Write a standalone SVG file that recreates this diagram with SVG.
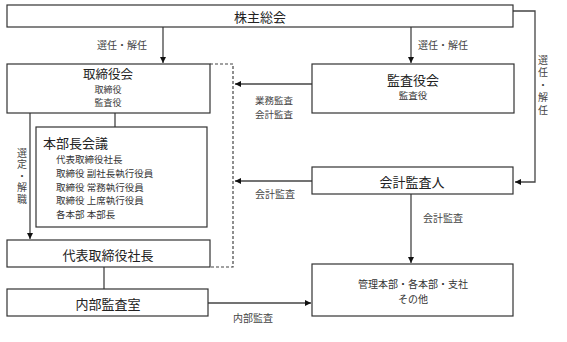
<svg xmlns="http://www.w3.org/2000/svg" width="567" height="342" viewBox="0 0 567 342">
<defs>
<marker id="ah" viewBox="0 0 10 10" refX="10" refY="5" markerWidth="6" markerHeight="6" markerUnits="userSpaceOnUse" orient="auto">
<path d="M0,0 L10,5 L0,10 Z" fill="#111"/>
</marker>
<style>
.box{fill:#fff;stroke:#333;stroke-width:1.2}
.ln{fill:none;stroke:#444;stroke-width:1.3}
.dash{fill:none;stroke:#444;stroke-width:1.2;stroke-dasharray:3 2}
text{font-family:"Noto Sans CJK JP","Noto Sans CJK SC",sans-serif;fill:#222}
.t{font-size:13px;text-anchor:middle;dominant-baseline:central}
.s{font-size:9.5px;text-anchor:middle;dominant-baseline:central;fill:#333}
.l{font-size:10px;dominant-baseline:central;fill:#444}
.m{font-size:9.5px;dominant-baseline:central;fill:#333}
.v{font-size:10px;fill:#444;writing-mode:vertical-rl}
</style>
</defs>
<g id="connectors">
<line class="ln" x1="163" y1="27" x2="163" y2="63" marker-end="url(#ah)"/>
<line class="ln" x1="411" y1="27" x2="411" y2="63" marker-end="url(#ah)"/>
<polyline class="ln" points="513,11 535,11 535,182 515,182" marker-end="url(#ah)"/>
<polyline class="dash" points="210,64 233,64 233,267 210,267"/>
<line class="ln" x1="312" y1="84" x2="235" y2="84" marker-end="url(#ah)"/>
<line class="ln" x1="312" y1="181" x2="235" y2="181" marker-end="url(#ah)"/>
<line class="ln" x1="30" y1="113" x2="30" y2="239" marker-end="url(#ah)"/>
<line class="ln" x1="115" y1="113" x2="115" y2="127"/>
<line class="ln" x1="104" y1="267" x2="104" y2="289"/>
<line class="ln" x1="411" y1="194" x2="411" y2="263" marker-end="url(#ah)"/>
<line class="ln" x1="208" y1="303" x2="311" y2="303" marker-end="url(#ah)"/>
<text class="l" x="97" y="44">選任・解任</text>
<text class="l" x="418" y="44">選任・解任</text>
<text class="l" style="font-size:9.5px"><tspan x="255" y="99.5">業務監査</tspan><tspan x="255" y="113.5">会計監査</tspan></text>
<text class="l" x="255" y="193">会計監査</text>
<text class="l" x="423" y="217">会計監査</text>
<text class="l" x="233" y="317">内部監査</text>
<text class="v" x="543" y="55" style="letter-spacing:2.5px">選任・解任</text>
<text class="v" x="22" y="148" style="letter-spacing:1.5px">選定・解職</text>
</g>
<g id="kabunushi">
<rect class="box" x="7" y="5" width="506" height="22"/>
<text class="t" x="260" y="16">株主総会</text>
</g>
<g id="torishimariyakukai">
<rect class="box" x="7" y="64" width="203" height="49"/>
<text class="t" x="108" y="73.5" style="font-size:12.5px">取締役会</text>
<text class="s" style="font-size:9px"><tspan x="108" y="89.2">取締役</tspan><tspan x="108" y="102.4">監査役</tspan></text>
</g>
<g id="kansayakukai">
<rect class="box" x="312" y="64" width="202" height="49"/>
<text class="t" x="413" y="79">監査役会</text>
<text class="s" x="413" y="95.3">監査役</text>
</g>
<g id="honbucho">
<rect class="box" x="36" y="127" width="171" height="100"/>
<text class="t" x="43" y="142" style="text-anchor:start">本部長会議</text>
<text class="m"><tspan x="56" y="159">代表取締役社長</tspan><tspan x="56" y="172.8">取締役 副社長執行役員</tspan><tspan x="56" y="186.6">取締役 常務執行役員</tspan><tspan x="56" y="200.4">取締役 上席執行役員</tspan><tspan x="56" y="214.2">各本部 本部長</tspan></text>
</g>
<g id="kaikei">
<rect class="box" x="312" y="167" width="201" height="27"/>
<text class="t" x="412" y="181">会計監査人</text>
</g>
<g id="daihyo">
<rect class="box" x="7" y="240" width="203" height="27"/>
<text class="t" x="108" y="254">代表取締役社長</text>
</g>
<g id="naibu">
<rect class="box" x="7" y="289" width="201" height="27"/>
<text class="t" x="108" y="303">内部監査室</text>
</g>
<g id="kanri">
<rect class="box" x="312" y="264" width="201" height="52"/>
<text class="s" style="font-size:10px"><tspan x="413" y="282.5">管理本部・各本部・支社</tspan><tspan x="413" y="297.5">その他</tspan></text>
</g>
</svg>
